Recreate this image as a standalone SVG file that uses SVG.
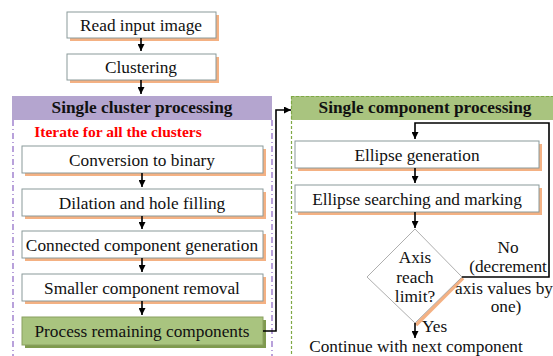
<svg xmlns="http://www.w3.org/2000/svg" width="553" height="356" viewBox="0 0 553 356" font-family="Liberation Serif, serif" font-size="17.3">
<defs>
<marker id="ah" viewBox="0 0 10 10" refX="10" refY="5" markerWidth="7" markerHeight="7" markerUnits="userSpaceOnUse" orient="auto">
<path d="M0,0 L10,5 L0,10 z" fill="#000"/>
</marker>
</defs>
<style>
text{fill:#111;text-anchor:middle}
.b{font-weight:bold}
.red{fill:#f00;font-size:15.5px}
.box{fill:#fff;stroke:#8a9a9a;stroke-width:1}
.sh{fill:#f4b183}
.gbox{fill:#a9c47f;stroke:#8aa060;stroke-width:1}
.gsh{fill:#7f9a4e}
.con{fill:none;stroke:#000;stroke-width:1.6}
</style>
<rect width="553" height="356" fill="#fff"/>

<g id="cluster-panel">
<rect x="12" y="96" width="260" height="24" fill="#b4a5cf"/>
<line x1="13" y1="120" x2="13" y2="356" stroke="#8a64c4" stroke-width="1.2" stroke-dasharray="6,3,1,3"/>
<line x1="272" y1="120" x2="272" y2="356" stroke="#8a64c4" stroke-width="1.2" stroke-dasharray="6,3,1,3"/>
<text x="142" y="113" class="b">Single cluster processing</text>
<text x="118" y="137" class="b red">Iterate for all the clusters</text>
</g>

<g id="component-panel">
<rect x="291" y="96" width="262" height="24" fill="#a9c47f"/>
<line x1="291" y1="96.5" x2="553" y2="96.5" stroke="#7fa845" stroke-width="1.2" stroke-dasharray="3,2"/>
<line x1="291.5" y1="96" x2="291.5" y2="356" stroke="#7fa845" stroke-width="1.2" stroke-dasharray="3,2"/>
<text x="425" y="113" class="b">Single component processing</text>
</g>

<g id="read">
<rect x="70" y="15" width="149" height="26" class="sh"/>
<rect x="67" y="12" width="149" height="26" class="box"/>
<text x="141" y="31">Read input image</text>
</g>
<g id="clustering">
<rect x="70" y="57" width="149" height="26" class="sh"/>
<rect x="67" y="54" width="149" height="26" class="box"/>
<text x="141" y="73">Clustering</text>
</g>

<g id="binary">
<rect x="25" y="149" width="241" height="27" class="sh"/>
<rect x="22" y="146" width="241" height="27" class="box"/>
<text x="142" y="166">Conversion to binary</text>
</g>
<g id="dilation">
<rect x="25" y="192" width="241" height="27" class="sh"/>
<rect x="22" y="189" width="241" height="27" class="box"/>
<text x="142" y="209">Dilation and hole filling</text>
</g>
<g id="connected">
<rect x="25" y="234" width="241" height="27" class="sh"/>
<rect x="22" y="231" width="241" height="27" class="box"/>
<text x="142" y="251">Connected component generation</text>
</g>
<g id="smaller">
<rect x="25" y="277" width="241" height="27" class="sh"/>
<rect x="22" y="274" width="241" height="27" class="box"/>
<text x="142" y="294">Smaller component removal</text>
</g>
<g id="process">
<rect x="25" y="320" width="241" height="28" class="gsh"/>
<rect x="22" y="317" width="241" height="28" class="gbox"/>
<text x="142" y="337">Process remaining components</text>
</g>

<g id="ellgen">
<rect x="298" y="144" width="244" height="27" class="sh"/>
<rect x="295" y="141" width="244" height="27" class="box"/>
<text x="417" y="161">Ellipse generation</text>
</g>
<g id="ellsearch">
<rect x="298" y="188" width="244" height="27" class="sh"/>
<rect x="295" y="185" width="244" height="27" class="box"/>
<text x="417" y="205">Ellipse searching and marking</text>
</g>
<g id="decision">
<line x1="463" y1="278" x2="416" y2="325" stroke="#f4b183" stroke-width="3.5"/>
<path d="M415,229 L462,277 L415,323 L367,277 Z" fill="#fff" stroke="#999" stroke-width="0.8"/>
<text x="415" y="263">Axis</text>
<text x="415" y="283">reach</text>
<text x="415" y="302">limit?</text>
</g>
<g id="labels">
<text x="508" y="253">No</text>
<text x="508" y="272">(decrement</text>
<text x="504" y="294">axis values by</text>
<text x="506" y="312">one)</text>
<text x="422" y="332" style="text-anchor:start">Yes</text>
<text x="416" y="352">Continue with next component</text>
</g>

<g id="connectors">
<line x1="141" y1="38" x2="141" y2="51" class="con" marker-end="url(#ah)"/>
<line x1="141" y1="80" x2="141" y2="94" class="con" marker-end="url(#ah)"/>
<line x1="142" y1="173" x2="142" y2="187" class="con" marker-end="url(#ah)"/>
<line x1="142" y1="216" x2="142" y2="229" class="con" marker-end="url(#ah)"/>
<line x1="142" y1="258" x2="142" y2="272" class="con" marker-end="url(#ah)"/>
<line x1="142" y1="301" x2="142" y2="315" class="con" marker-end="url(#ah)"/>
<polyline points="263,331 276,331 276,110 291,110" class="con" marker-end="url(#ah)"/>
<line x1="415" y1="168" x2="415" y2="183" class="con" marker-end="url(#ah)"/>
<line x1="415" y1="212" x2="415" y2="228" class="con" marker-end="url(#ah)"/>
<polyline points="462,277 549,277 549,123 415,123 415,139" class="con" marker-end="url(#ah)"/>
<line x1="415" y1="323" x2="415" y2="338" class="con" marker-end="url(#ah)"/>
</g>
</svg>
